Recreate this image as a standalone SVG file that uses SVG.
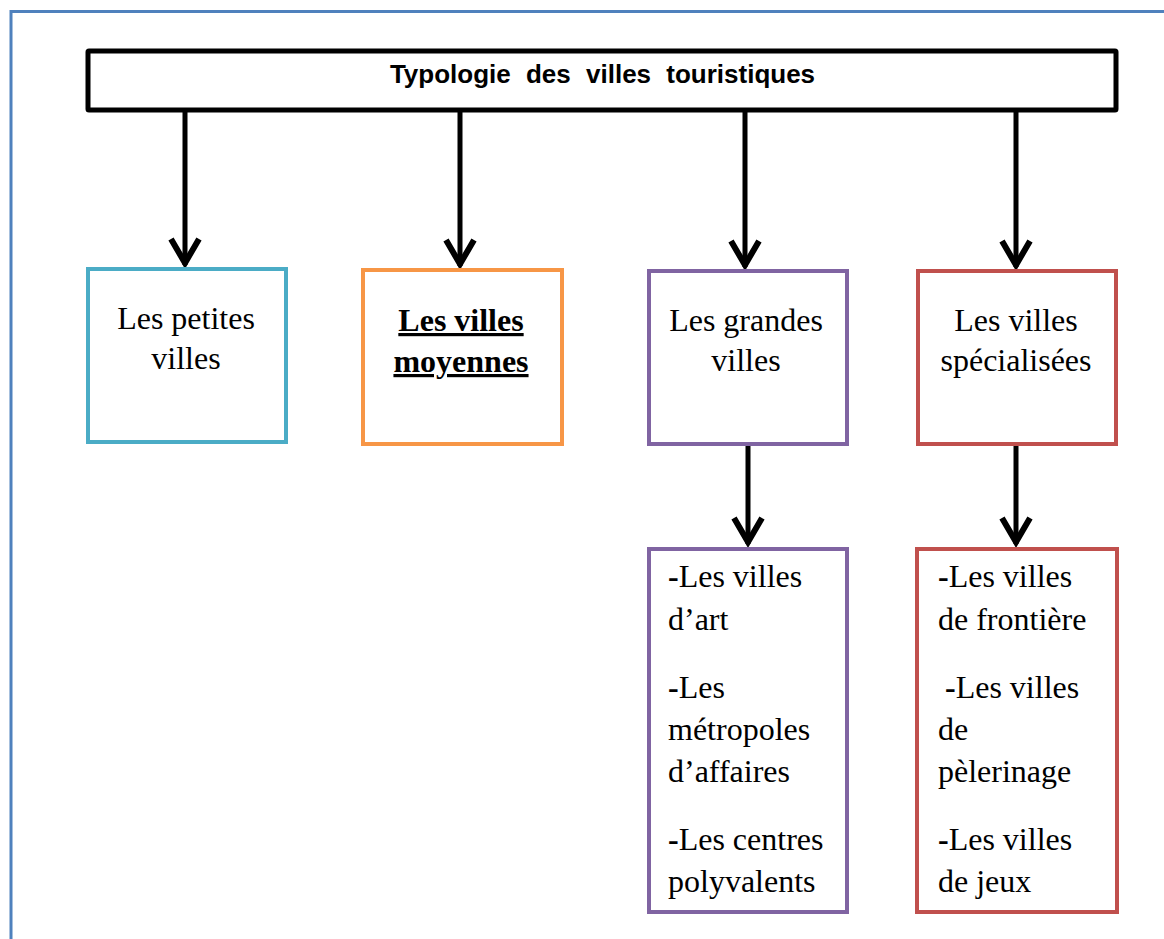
<svg xmlns="http://www.w3.org/2000/svg" width="1164" height="939" viewBox="0 0 1164 939">
<style>
.box{fill:#fff;stroke-width:4}
.t{font-family:"Liberation Serif","Times New Roman",serif;font-size:32px;fill:#000}
.c{text-anchor:middle}
.conn{stroke:#000;stroke-width:5;fill:none}
</style>
<defs>
<marker id="ah" markerUnits="userSpaceOnUse" viewBox="-34 -20 38 40" refX="0" refY="0" markerWidth="38" markerHeight="40" orient="auto">
<path d="M-26,-14 L-2,0 L-26,14" fill="none" stroke="#000" stroke-width="6" stroke-linejoin="miter"/>
</marker>
</defs>
<rect width="1164" height="939" fill="#fff"/>
<rect x="11" y="11.5" width="1170" height="940" fill="none" stroke="#4F81BD" stroke-width="3"/>
<g id="connectors">
<line class="conn" x1="185" y1="111" x2="185" y2="265" marker-end="url(#ah)"/>
<line class="conn" x1="460" y1="111" x2="460" y2="266" marker-end="url(#ah)"/>
<line class="conn" x1="745" y1="111" x2="745" y2="267" marker-end="url(#ah)"/>
<line class="conn" x1="1016" y1="111" x2="1016" y2="267" marker-end="url(#ah)"/>
<line class="conn" x1="748" y1="445" x2="748" y2="544" marker-end="url(#ah)"/>
<line class="conn" x1="1016" y1="445" x2="1016" y2="544" marker-end="url(#ah)"/>
</g>
<g id="title">
<rect x="88" y="51" width="1028" height="59" fill="#fff" stroke="#000" stroke-width="5" rx="1"/>
<text x="602.5" y="83" text-anchor="middle" font-family="Liberation Sans,Arial,sans-serif" font-weight="bold" font-size="26" word-spacing="8">Typologie des villes touristiques</text>
</g>
<g id="petites">
<rect class="box" x="88" y="269" width="198" height="173" stroke="#4BACC6"/>
<text class="t c" x="186" y="329">Les petites</text>
<text class="t c" x="186" y="369">villes</text>
</g>
<g id="moyennes">
<rect class="box" x="363" y="270" width="199" height="174" stroke="#F79646"/>
<text class="t c" x="461" y="331" font-weight="bold" text-decoration="underline">Les villes</text>
<text class="t c" x="461" y="372" font-weight="bold" text-decoration="underline">moyennes</text>
</g>
<g id="grandes">
<rect class="box" x="649" y="271" width="198" height="173" stroke="#8064A2"/>
<text class="t c" x="746" y="331">Les grandes</text>
<text class="t c" x="746" y="371">villes</text>
</g>
<g id="specialisees">
<rect class="box" x="918" y="271" width="198" height="173" stroke="#C0504D"/>
<text class="t c" x="1016" y="331">Les villes</text>
<text class="t c" x="1016" y="371">spécialisées</text>
</g>
<g id="grandes-list">
<rect class="box" x="649" y="549" width="198" height="363" stroke="#8064A2"/>
<text class="t" x="668" y="587"><tspan font-weight="bold">-</tspan>Les villes</text>
<text class="t" x="668" y="630">d’art</text>
<text class="t" x="668" y="698"><tspan font-weight="bold">-</tspan>Les</text>
<text class="t" x="668" y="740">métropoles</text>
<text class="t" x="668" y="782">d’affaires</text>
<text class="t" x="668" y="850"><tspan font-weight="bold">-</tspan>Les centres</text>
<text class="t" x="668" y="892">polyvalents</text>
</g>
<g id="specialisees-list">
<rect class="box" x="917" y="549" width="200" height="363" stroke="#C0504D"/>
<text class="t" x="938" y="587"><tspan font-weight="bold">-</tspan>Les villes</text>
<text class="t" x="938" y="630">de frontière</text>
<text class="t" x="945" y="698"><tspan font-weight="bold">-</tspan>Les villes</text>
<text class="t" x="938" y="740">de</text>
<text class="t" x="938" y="782">pèlerinage</text>
<text class="t" x="938" y="850"><tspan font-weight="bold">-</tspan>Les villes</text>
<text class="t" x="938" y="892">de jeux</text>
</g>
</svg>
